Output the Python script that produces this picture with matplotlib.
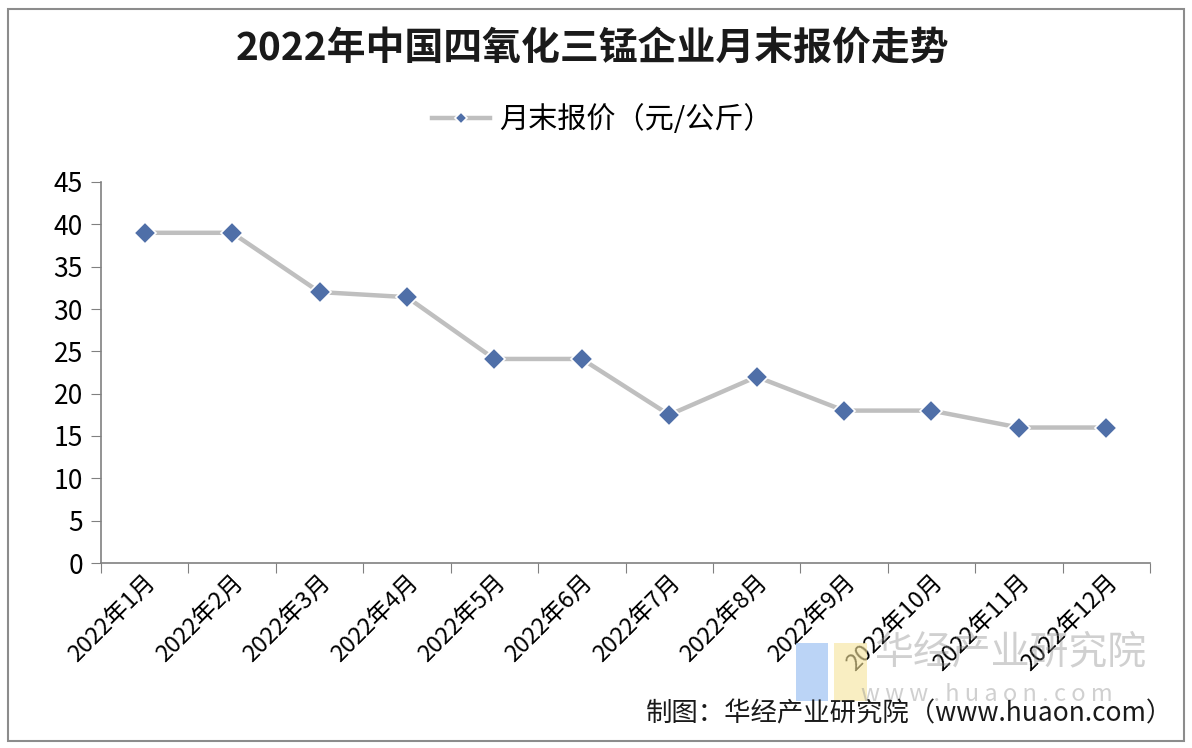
import numpy as np
import matplotlib.pyplot as plt
from matplotlib.patches import Rectangle

plt.rcParams['font.family'] = ['Noto Sans CJK SC', 'DejaVu Sans']

months = ['2022年1月', '2022年2月', '2022年3月', '2022年4月', '2022年5月', '2022年6月',
          '2022年7月', '2022年8月', '2022年9月', '2022年10月', '2022年11月', '2022年12月']
price = [39, 39, 32, 31.4, 24.1, 24.1, 17.5, 22, 18, 18, 16, 16]
series_name = '月末报价（元/公斤）'
title = '2022年中国四氧化三锰企业月末报价走势'
source = '制图：华经产业研究院（www.huaon.com）'

fig = plt.figure(figsize=(11.92, 7.48), dpi=100)
fig.patch.set_facecolor('white')
# outer frame
fig.patches.append(Rectangle((0.007, 0.01), 0.986, 0.978, transform=fig.transFigure,
                             fill=False, edgecolor='#8c8c8c', linewidth=1.5))

ax = fig.add_axes([101 / 1192, 1 - 563 / 748, (1150 - 101) / 1192, (563 - 182) / 748])
x = np.arange(len(months))
ax.plot(x, price, color='#bfbfbf', linewidth=3.2, marker='D', markersize=11,
        markerfacecolor='#4f6fa8', markeredgecolor='white', markeredgewidth=1.2,
        label=series_name, zorder=3)

ax.set_xlim(-0.5, len(months) - 0.5)
ax.set_ylim(0, 45)
ax.set_yticks(range(0, 46, 5))
ax.set_xticks(np.arange(-0.5, len(months), 1), minor=False)
ax.set_xticklabels([])
ax.set_xticks(x, minor=True)
ax.set_xticklabels(months, minor=True, rotation=45, ha='right', va='top',
                   rotation_mode='anchor', fontsize=17)
ax.tick_params(axis='x', which='minor', length=0, pad=6)
ax.tick_params(axis='x', which='major', length=7, color='#808080', direction='out')
ax.tick_params(axis='y', length=7, color='#808080', labelsize=19, pad=6)
for s in ['top', 'right']:
    ax.spines[s].set_visible(False)
for s in ['left', 'bottom']:
    ax.spines[s].set_color('#808080')
    ax.spines[s].set_linewidth(1.2)

fig.text(0.497, 0.935, title, ha='center', va='center', fontsize=28, fontweight='bold',
         color='#1a1a1a')
leg = ax.legend(loc='center', bbox_to_anchor=(0.505, 1 - 120 / 748),
                bbox_transform=fig.transFigure, frameon=False, fontsize=21,
                handlelength=2.0, handletextpad=0.3, markerscale=0.6)

# watermark
fig.text(0.733, 0.128, '华经产业研究院', fontsize=28, color='#8a8a8a', alpha=0.4,
         ha='left', va='center')
fig.text(0.722, 0.072, 'w w w . h u a o n . c o m', fontsize=17, color='#8a8a8a', alpha=0.4,
         ha='left', va='center')
fig.patches.append(Rectangle((0.668, 0.063), 0.027, 0.078, transform=fig.transFigure,
                             color='#8fb8f0', alpha=0.6, linewidth=0))
fig.patches.append(Rectangle((0.700, 0.063), 0.027, 0.078, transform=fig.transFigure,
                             color='#f5e39a', alpha=0.6, linewidth=0))

fig.text(0.984, 0.046, source, ha='right', va='center', fontsize=19, color='#1a1a1a')

fig.savefig('out.png', dpi=100)
